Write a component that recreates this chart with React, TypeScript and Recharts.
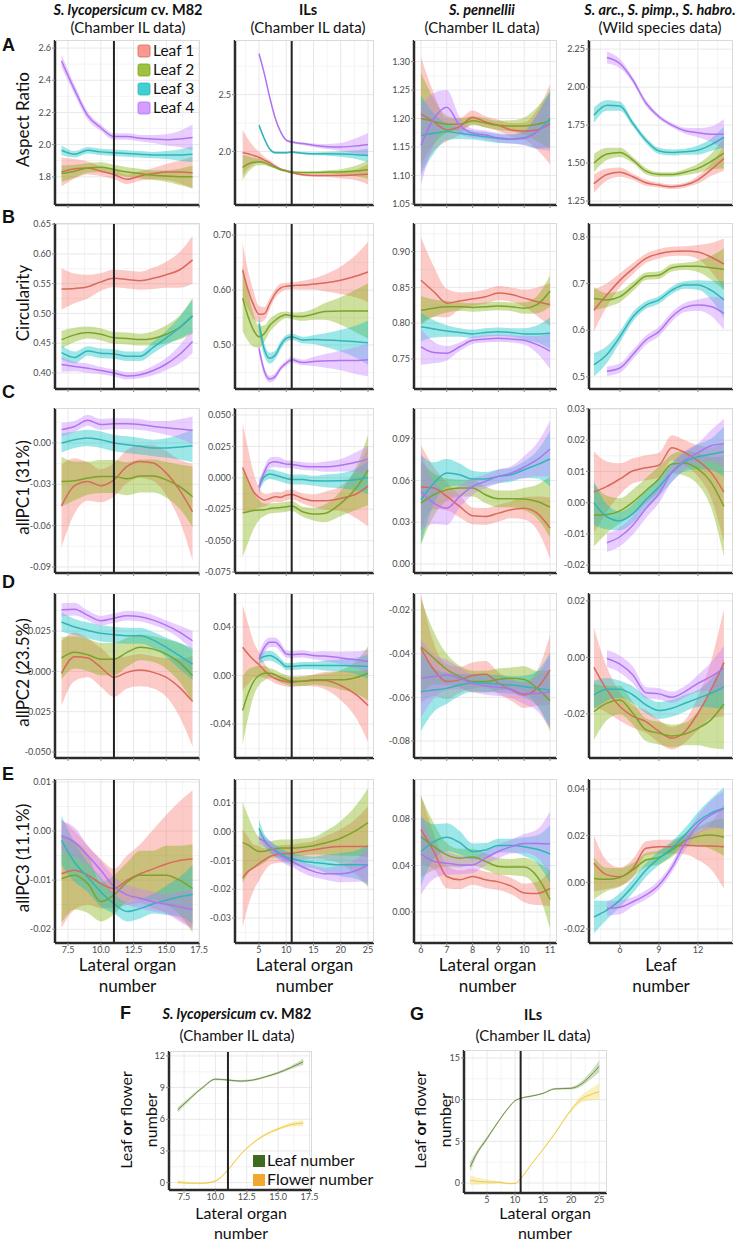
import React from 'react'
import { ComposedChart, Area, Line, XAxis, YAxis, CartesianGrid, ReferenceLine } from 'recharts'

type Pt = [number, number] | null

// x positions (lateral organ / leaf number) per column
const xM82 = [7, 8, 9, 10, 11, 12, 13, 14, 15, 16, 17]
const xIL = [2, 3, 4, 5, 6, 7, 8, 9, 10, 11, 13, 15, 17, 20, 23, 25]
const xPen = [6, 6.5, 7, 7.5, 8, 8.5, 9, 9.5, 10, 10.5, 11]
const xWild = [4, 5, 6, 7, 8, 9, 10, 11, 12, 13, 14]
const xG = [2, 3, 5, 7, 9, 10, 11, 13, 15, 17, 20, 22, 23, 25]

const leafNames = ['Leaf 1', 'Leaf 2', 'Leaf 3', 'Leaf 4']

// each entry: [smoothed mean, half width of the band]
const arM82: Pt[][] = [
  [[1.83, .09], [1.85, .06], [1.855, .04], [1.835, .03], [1.815, .03], [1.785, .03], [1.805, .03], [1.82, .035], [1.83, .05], [1.83, .07], [1.825, .1]],
  [[1.82, .05], [1.835, .04], [1.855, .03], [1.86, .03], [1.845, .03], [1.83, .03], [1.82, .03], [1.81, .03], [1.805, .035], [1.8, .05], [1.8, .07]],
  [[1.965, .03], [1.94, .02], [1.965, .02], [1.955, .02], [1.95, .02], [1.945, .02], [1.94, .02], [1.935, .02], [1.935, .025], [1.935, .035], [1.94, .05]],
  [[2.52, .04], [2.34, .03], [2.18, .025], [2.105, .02], [2.05, .02], [2.05, .02], [2.04, .02], [2.035, .025], [2.03, .035], [2.035, .05], [2.045, .08]],
]
const arIL: Pt[][] = [
  [[1.99, .2], [1.98, .13], [1.965, .08], [1.95, .05], [1.925, .03], [1.9, .02], [1.87, .015], [1.845, .01], [1.83, .01], [1.815, .01], [1.795, .01], [1.79, .012], [1.79, .015], [1.79, .025], [1.795, .05], [1.8, .09]],
  [[1.86, .11], [1.89, .07], [1.905, .04], [1.91, .03], [1.9, .02], [1.88, .015], [1.86, .01], [1.84, .01], [1.83, .01], [1.82, .01], [1.815, .01], [1.815, .012], [1.818, .015], [1.82, .025], [1.83, .05], [1.84, .08]],
  [null, null, null, [2.23, .02], [2.11, .015], [2.02, .012], [1.99, .01], [1.99, .01], [1.99, .01], [1.995, .01], [1.985, .01], [1.98, .012], [1.98, .015], [1.978, .025], [1.972, .04], [1.965, .06]],
  [null, null, null, [2.86, .02], [2.68, .015], [2.47, .012], [2.29, .01], [2.17, .01], [2.1, .01], [2.083, .01], [2.07, .012], [2.055, .015], [2.045, .02], [2.04, .035], [2.05, .07], [2.062, .1]],
]
const arPen: Pt[][] = [
  [[1.208, .1], [1.194, .05], [1.18, .02], [1.186, .015], [1.202, .012], [1.194, .01], [1.188, .01], [1.18, .012], [1.178, .015], [1.18, .035], [1.19, .07]],
  [[1.2, .08], [1.195, .04], [1.19, .015], [1.19, .01], [1.196, .008], [1.192, .008], [1.188, .008], [1.187, .01], [1.187, .015], [1.19, .03], [1.196, .05]],
  [[1.17, .07], [1.174, .035], [1.177, .015], [1.174, .01], [1.171, .008], [1.168, .008], [1.165, .008], [1.164, .008], [1.166, .012], [1.177, .03], [1.2, .05]],
  [[1.153, .07], [1.2, .045], [1.22, .03], [1.188, .015], [1.174, .008], [1.171, .008], [1.166, .008], [1.164, .008], [1.165, .012], [1.177, .03], [1.193, .05]],
]
const arWild: Pt[][] = [
  [[1.364, .06], [1.425, .04], [1.44, .03], [1.41, .02], [1.37, .02], [1.355, .015], [1.344, .015], [1.355, .015], [1.39, .025], [1.455, .04], [1.53, .08]],
  [[1.5, .06], [1.56, .04], [1.57, .03], [1.52, .02], [1.447, .02], [1.425, .015], [1.425, .015], [1.44, .02], [1.465, .03], [1.51, .05], [1.565, .1]],
  [[1.815, .05], [1.88, .035], [1.875, .03], [1.76, .02], [1.65, .02], [1.58, .02], [1.57, .02], [1.575, .02], [1.585, .03], [1.62, .04], [1.67, .07]],
  [null, [2.195, .04], [2.155, .03], [2.045, .02], [1.895, .02], [1.805, .015], [1.75, .015], [1.713, .02], [1.7, .03], [1.69, .05], [1.69, .1]],
]

const circM82: Pt[][] = [
  [[.541, .035], [.542, .025], [.545, .02], [.553, .015], [.559, .015], [.557, .015], [.555, .015], [.559, .018], [.565, .022], [.573, .03], [.59, .04]],
  [[.456, .015], [.464, .012], [.468, .01], [.465, .01], [.459, .01], [.458, .01], [.456, .01], [.458, .012], [.465, .015], [.476, .02], [.496, .03]],
  [[.434, .012], [.426, .01], [.437, .008], [.433, .008], [.432, .008], [.428, .008], [.428, .008], [.443, .01], [.459, .012], [.476, .018], [.496, .028]],
  [[.414, .012], [.411, .008], [.408, .008], [.404, .006], [.4, .006], [.395, .006], [.397, .006], [.404, .008], [.415, .01], [.431, .015], [.453, .02]],
]
const circIL: Pt[][] = [
  [[.636, .05], [.6, .035], [.573, .025], [.556, .015], [.557, .012], [.576, .01], [.594, .008], [.604, .008], [.607, .006], [.608, .006], [.609, .008], [.611, .01], [.613, .015], [.618, .025], [.626, .04], [.633, .055]],
  [[.585, .06], [.552, .045], [.527, .03], [.515, .02], [.521, .015], [.536, .012], [.545, .01], [.552, .008], [.555, .006], [.553, .006], [.552, .008], [.556, .01], [.561, .015], [.562, .025], [.562, .04], [.562, .05]],
  [null, null, null, [.539, .015], [.491, .012], [.476, .01], [.482, .008], [.5, .008], [.512, .006], [.515, .006], [.509, .006], [.51, .008], [.509, .012], [.508, .02], [.506, .03], [.504, .04]],
  [null, null, null, [.494, .01], [.452, .008], [.438, .006], [.443, .006], [.458, .005], [.467, .005], [.473, .005], [.468, .005], [.47, .008], [.471, .012], [.472, .018], [.472, .025], [.473, .03]],
]
const circPen: Pt[][] = [
  [[.86, .06], [.844, .035], [.828, .02], [.831, .012], [.834, .01], [.837, .01], [.842, .01], [.84, .01], [.835, .012], [.83, .02], [.826, .03]],
  [[.818, .02], [.821, .012], [.823, .008], [.823, .006], [.822, .006], [.823, .006], [.824, .006], [.823, .006], [.821, .008], [.826, .012], [.845, .022]],
  [[.795, .02], [.792, .012], [.789, .008], [.787, .006], [.785, .006], [.787, .006], [.788, .006], [.787, .006], [.785, .008], [.785, .012], [.786, .022]],
  [[.767, .025], [.759, .015], [.758, .01], [.767, .006], [.776, .005], [.778, .005], [.779, .005], [.778, .005], [.776, .006], [.77, .012], [.761, .025]],
]
const circWild: Pt[][] = [
  [[.643, .045], [.676, .025], [.707, .015], [.732, .012], [.754, .01], [.764, .01], [.769, .01], [.77, .01], [.768, .015], [.757, .03], [.742, .055]],
  [[.668, .025], [.665, .015], [.672, .012], [.694, .01], [.716, .008], [.718, .008], [.734, .008], [.737, .008], [.737, .012], [.734, .025], [.731, .045]],
  [[.526, .025], [.548, .018], [.586, .012], [.629, .01], [.654, .008], [.665, .008], [.686, .008], [.697, .008], [.697, .01], [.686, .02], [.665, .04]],
  [null, [.512, .01], [.519, .01], [.548, .01], [.579, .01], [.597, .01], [.629, .01], [.649, .01], [.654, .012], [.651, .02], [.636, .035]],
]

const pc1M82: Pt[][] = [
  [[-.0457, .03], [-.031, .02], [-.028, .014], [-.031, .012], [-.0268, .012], [-.017, .012], [-.0134, .012], [-.0146, .013], [-.0219, .016], [-.0341, .022], [-.05, .035]],
  [[-.028, .018], [-.0275, .014], [-.0255, .012], [-.0243, .012], [-.0243, .012], [-.026, .012], [-.024, .012], [-.024, .012], [-.0268, .013], [-.0316, .016], [-.039, .022]],
  [[0, .007], [.0024, .006], [.0036, .006], [.0024, .006], [0, .006], [-.0012, .006], [-.0024, .006], [-.0036, .006], [-.0036, .007], [-.003, .009], [-.002, .012]],
  [[.0097, .005], [.012, .004], [.0165, .004], [.0134, .004], [.0139, .004], [.0139, .004], [.0134, .004], [.012, .004], [.011, .005], [.0102, .007], [.0092, .01]],
]
const pc1IL: Pt[][] = [
  [[.0082, .035], [-.0019, .025], [-.011, .015], [-.0156, .008], [-.0178, .005], [-.0164, .004], [-.0151, .004], [-.0155, .004], [-.0138, .004], [-.0133, .004], [-.0164, .004], [-.0183, .005], [-.0183, .007], [-.0164, .01], [-.0125, .02], [-.0066, .032]],
  [[-.0279, .035], [-.027, .025], [-.026, .015], [-.0257, .008], [-.0255, .005], [-.0244, .004], [-.024, .004], [-.0236, .004], [-.023, .004], [-.0225, .004], [-.027, .004], [-.0289, .005], [-.0284, .007], [-.0204, .01], [-.0072, .018], [.0061, .028]],
  [null, null, null, [-.0066, .005], [.0008, .004], [.003, .004], [.002, .004], [.0008, .004], [-.0005, .004], [-.0013, .004], [-.0013, .004], [-.0024, .004], [-.0025, .005], [-.0024, .006], [-.0013, .009], [.0003, .013]],
  [null, null, null, [-.0077, .004], [.0048, .004], [.0119, .004], [.0127, .004], [.012, .004], [.0109, .003], [.0106, .003], [.0093, .003], [.0088, .003], [.0088, .004], [.01, .005], [.0127, .008], [.0149, .011]],
]
const pc1Pen: Pt[][] = [
  [[.0552, .03], [.0545, .015], [.0485, .01], [.0413, .008], [.0346, .006], [.0341, .006], [.0365, .006], [.0389, .006], [.04, .008], [.0365, .012], [.0257, .022]],
  [[.0437, .03], [.0497, .015], [.0533, .008], [.0545, .006], [.0545, .006], [.0497, .006], [.0468, .006], [.0468, .006], [.0466, .008], [.0449, .012], [.0408, .022]],
  [[.0461, .032], [.058, .015], [.0653, .01], [.0641, .008], [.061, .006], [.061, .005], [.0629, .005], [.0641, .005], [.0677, .006], [.0713, .01], [.0754, .02]],
  [[.0521, .028], [.0437, .015], [.04, .012], [.0485, .008], [.0557, .006], [.0593, .005], [.0629, .005], [.0653, .005], [.0696, .008], [.0749, .012], [.0826, .02]],
]
const pc1Wild: Pt[][] = [
  [[.0034, .013], [.0052, .008], [.0076, .005], [.0102, .004], [.0112, .004], [.012, .004], [.0176, .004], [.016, .004], [.0134, .005], [.0097, .008], [.0034, .016]],
  [[-.004, .01], [-.0038, .006], [-.0026, .004], [.0002, .004], [.0039, .004], [.0076, .004], [.0124, .003], [.0126, .004], [.0108, .005], [.0066, .008], [-.0012, .016]],
  [[-.0001, .007], [-.0045, .004], [-.0058, .003], [-.0035, .003], [.001, .003], [.005, .003], [.0097, .003], [.0131, .003], [.0147, .004], [.0155, .005], [.0163, .008]],
  [null, [-.0128, .003], [-.0109, .003], [-.0072, .003], [-.0019, .003], [.0029, .003], [.0097, .003], [.0136, .003], [.016, .003], [.0182, .005], [.0189, .008]],
]

const pc2M82: Pt[][] = [
  [[-.0012, .02], [.0091, .015], [.0083, .012], [.0025, .012], [-.0037, .012], [-.0006, .01], [.0008, .01], [-.0006, .01], [-.0037, .012], [-.0099, .018], [-.0186, .028]],
  [[.0083, .013], [.0118, .01], [.0103, .01], [.0076, .01], [.0076, .01], [.0118, .009], [.0149, .008], [.0138, .008], [.0107, .009], [.0056, .012], [-.0027, .016]],
  [[.0306, .006], [.0275, .005], [.0254, .005], [.0236, .005], [.0227, .005], [.0221, .005], [.0221, .005], [.0194, .005], [.0149, .006], [.0097, .008], [.0045, .01]],
  [[.0382, .004], [.0386, .004], [.0347, .003], [.0314, .003], [.033, .003], [.0345, .003], [.0339, .003], [.0318, .003], [.0285, .003], [.0244, .004], [.019, .006]],
]
const pc2IL: Pt[][] = [
  [[.0233, .035], [.0178, .025], [.013, .015], [.009, .01], [.004, .006], [0, .004], [-.0025, .004], [-.0041, .004], [-.005, .004], [-.0055, .004], [-.0047, .004], [-.0041, .005], [-.0041, .007], [-.0082, .012], [-.0164, .02], [-.0247, .03]],
  [[-.0288, .028], [-.0151, .02], [-.005, .012], [0, .008], [.0019, .006], [.0019, .004], [.0005, .004], [-.0019, .004], [-.0035, .004], [-.0047, .004], [-.0047, .004], [-.0036, .004], [-.0036, .005], [-.0036, .008], [-.0014, .014], [.0019, .022]],
  [null, null, null, [.0137, .004], [.0156, .004], [.0164, .004], [.0145, .004], [.011, .003], [.0074, .003], [.0074, .003], [.0082, .003], [.0082, .003], [.0082, .004], [.0082, .005], [.0078, .007], [.0074, .01]],
  [null, null, null, [.0137, .005], [.0233, .005], [.0274, .004], [.0274, .004], [.0233, .004], [.0178, .003], [.0173, .003], [.0178, .003], [.0164, .003], [.016, .004], [.0145, .005], [.0129, .007], [.0115, .01]],
]
const pc2Pen: Pt[][] = [
  [[-.0376, .025], [-.0474, .012], [-.0528, .008], [-.052, .006], [-.05, .006], [-.0494, .006], [-.0535, .005], [-.0566, .005], [-.0589, .006], [-.0558, .008], [-.0474, .016]],
  [[-.0368, .022], [-.0421, .012], [-.0472, .007], [-.0505, .005], [-.0528, .005], [-.0528, .005], [-.0518, .005], [-.0513, .005], [-.0518, .006], [-.0559, .008], [-.0615, .014]],
  [[-.0574, .018], [-.0566, .01], [-.0559, .007], [-.0544, .005], [-.0533, .004], [-.0536, .004], [-.0539, .004], [-.0544, .004], [-.0551, .005], [-.0559, .008], [-.0566, .017]],
  [[-.0513, .018], [-.0505, .01], [-.0498, .007], [-.0513, .005], [-.0536, .004], [-.0548, .004], [-.0554, .004], [-.0563, .004], [-.0582, .005], [-.0582, .008], [-.0574, .017]],
]
const pc2Wild: Pt[][] = [
  [[-.0035, .014], [-.0115, .008], [-.0174, .005], [-.0209, .004], [-.0227, .004], [-.0262, .004], [-.0286, .004], [-.0262, .004], [-.0198, .006], [-.0115, .01], [-.0019, .019]],
  [[-.0192, .01], [-.0162, .006], [-.0151, .005], [-.0198, .004], [-.0256, .004], [-.0268, .004], [-.0278, .004], [-.0271, .004], [-.0251, .006], [-.0221, .01], [-.0165, .016]],
  [[-.0133, .005], [-.0113, .004], [-.0113, .003], [-.0133, .003], [-.0168, .003], [-.0188, .003], [-.018, .003], [-.0162, .003], [-.0145, .003], [-.0127, .005], [-.0104, .008]],
  [null, [-.0004, .003], [-.0024, .003], [-.0062, .003], [-.0125, .002], [-.0129, .002], [-.0141, .002], [-.0121, .002], [-.0092, .003], [-.0068, .005], [-.0039, .008]],
]

const pc3M82: Pt[][] = [
  [[-.0087, .011], [-.008, .008], [-.009, .006], [-.0107, .005], [-.0117, .004], [-.01, .005], [-.0087, .006], [-.0077, .008], [-.0067, .01], [-.006, .012], [-.0057, .014]],
  [[-.0097, .009], [-.009, .007], [-.0107, .006], [-.0144, .004], [-.013, .004], [-.0104, .004], [-.009, .005], [-.009, .005], [-.009, .006], [-.01, .007], [-.0117, .009]],
  [[-.0019, .005], [-.0064, .004], [-.0094, .003], [-.0124, .003], [-.0148, .002], [-.0164, .002], [-.0158, .002], [-.0148, .002], [-.0141, .003], [-.0134, .004], [-.0129, .006]],
  [[-.001, .003], [-.0023, .003], [-.005, .002], [-.008, .002], [-.0113, .002], [-.013, .002], [-.0137, .002], [-.0144, .002], [-.0149, .002], [-.0154, .003], [-.016, .004]],
]
const pc3IL: Pt[][] = [
  [[-.0161, .017], [-.0138, .012], [-.0125, .008], [-.0111, .006], [-.0098, .004], [-.0086, .003], [-.008, .003], [-.0077, .003], [-.0076, .003], [-.0075, .003], [-.0069, .003], [-.0063, .003], [-.0057, .004], [-.0052, .006], [-.0052, .01], [-.0052, .014]],
  [[-.0038, .014], [-.0046, .01], [-.006, .007], [-.0069, .005], [-.0068, .004], [-.0063, .003], [-.006, .003], [-.0057, .003], [-.0057, .003], [-.0057, .003], [-.0054, .003], [-.0049, .003], [-.004, .004], [-.0023, .006], [.0006, .009], [.0031, .012]],
  [null, null, null, [.0011, .003], [-.0029, .002], [-.0052, .002], [-.0066, .002], [-.0077, .002], [-.0089, .002], [-.0094, .002], [-.0103, .002], [-.0107, .002], [-.0111, .003], [-.0115, .004], [-.0115, .005], [-.0115, .007]],
  [null, null, null, [-.0023, .002], [-.0034, .002], [-.0052, .002], [-.0069, .002], [-.0084, .002], [-.0095, .002], [-.0103, .002], [-.0123, .002], [-.0138, .002], [-.0146, .002], [-.0146, .003], [-.0134, .004], [-.0115, .006]],
]
const pc3Pen: Pt[][] = [
  [[.0708, .03], [.052, .015], [.0305, .01], [.0277, .008], [.0305, .007], [.0277, .007], [.0259, .007], [.0222, .007], [.0164, .008], [.0159, .01], [.0202, .015]],
  [[.0648, .035], [.0562, .02], [.0491, .01], [.0463, .008], [.0472, .007], [.0435, .007], [.0392, .007], [.0386, .007], [.0386, .008], [.0305, .012], [.0107, .025]],
  [[.052, .03], [.0605, .015], [.0643, .012], [.0597, .01], [.052, .007], [.0533, .006], [.0571, .006], [.0571, .006], [.0562, .008], [.0539, .012], [.0499, .025]],
  [[.0499, .035], [.0435, .015], [.042, .01], [.0405, .008], [.0405, .007], [.0463, .006], [.052, .006], [.0562, .006], [.059, .008], [.059, .012], [.0585, .028]],
]
const pc3Wild: Pt[][] = [
  [[.0082, .012], [.0032, .006], [.0024, .004], [.006, .004], [.0146, .003], [.0153, .003], [.0153, .003], [.016, .004], [.0156, .006], [.0156, .01], [.0153, .018]],
  [[.0017, .009], [.0013, .005], [.0021, .004], [.0053, .003], [.0096, .003], [.0107, .003], [.0139, .003], [.0179, .003], [.0197, .004], [.0203, .006], [.0193, .008]],
  [[-.0148, .007], [-.0119, .004], [-.0076, .003], [-.0016, .003], [.0053, .003], [.0103, .003], [.0146, .003], [.0203, .003], [.0261, .004], [.0297, .006], [.0318, .009]],
  [null, [-.0112, .003], [-.0107, .003], [-.0083, .002], [-.0054, .002], [-.0011, .002], [.0064, .002], [.0168, .003], [.0246, .004], [.0289, .006], [.0314, .008]],
]

// panel F / G: leaf and flower counts
const countM82: Pt[][] = [
  [[6.9, .25], [8.0, .15], [9.03, .12], [9.8, .1], [9.72, .1], [9.62, .1], [9.72, .1], [10.03, .1], [10.4, .12], [10.9, .15], [11.44, .3]],
  [[0.06, .2], [-0.06, .1], [-0.06, .08], [0.16, .08], [1.2, .08], [2.66, .08], [3.76, .1], [4.55, .12], [5.08, .15], [5.49, .2], [5.64, .3]],
]
const countIL: Pt[][] = [
  [[1.93, .6], [3.33, .35], [5.34, .2], [7.35, .12], [9.16, .1], [9.88, .08], [10.16, .08], [10.44, .08], [10.76, .08], [11.29, .1], [11.37, .15], [11.97, .3], [12.57, .4], [13.98, .7]],
  [[0.32, .6], [0.24, .45], [0.12, .3], [0.1, .15], [-0.08, .08], [-0.05, .08], [0.52, .08], [2.33, .08], [4.02, .1], [5.86, .12], [8.76, .2], [10.16, .45], [10.48, .6], [10.96, 1.0]],
]

const leafFill = ['#F8766D', '#7CAE00', '#00BFC4', '#C77CFF']
const leafLine = ['#D9685E', '#7BA32A', '#33B4B7', '#AE74F0']
const countFill = ['#7FA552', '#F5D757']
const countLine = ['#6E8E45', '#EFCB3C']

const FONT = 'Lato, "Open Sans", sans-serif'
const LETTER_FONT = '"Liberation Sans", Arial, sans-serif'

interface ColCfg {
  left: number; w: number; xs: number[]; xDomain: [number, number]; xTicks: number[]; xMinor: number[]; xDec: number; vline: boolean
}
interface RowCfg { top: number; h: number }
interface YCfg { series: Pt[][]; domain: [number, number]; ticks: number[]; dec: number }

const cols: ColCfg[] = [
  { left: 55, w: 145, xs: xM82, xDomain: [6.5, 17.57], xTicks: [7.5, 10, 12.5, 15, 17.5], xMinor: [8.75, 11.25, 13.75, 16.25], xDec: 1, vline: true },
  { left: 235, w: 139, xs: xIL, xDomain: [0.6, 26.1], xTicks: [5, 10, 15, 20, 25], xMinor: [2.5, 7.5, 12.5, 17.5, 22.5], xDec: 0, vline: true },
  { left: 414, w: 143, xs: xPen, xDomain: [5.73, 11.27], xTicks: [6, 7, 8, 9, 10, 11], xMinor: [6.5, 7.5, 8.5, 9.5, 10.5], xDec: 0, vline: false },
  { left: 589, w: 144, xs: xWild, xDomain: [3.62, 14.7], xTicks: [6, 9, 12], xMinor: [4.5, 7.5, 10.5, 13.5], xDec: 0, vline: false },
]
const rows: RowCfg[] = [
  { top: 40, h: 165 }, { top: 223, h: 166 }, { top: 408, h: 165 }, { top: 593, h: 165 }, { top: 779, h: 164 },
]
const grid: YCfg[][] = [
  [
    { series: arM82, domain: [1.625, 2.65], ticks: [1.8, 2.0, 2.2, 2.4, 2.6], dec: 1 },
    { series: arIL, domain: [1.53, 2.98], ticks: [2.0, 2.5], dec: 1 },
    { series: arPen, domain: [1.048, 1.338], ticks: [1.05, 1.1, 1.15, 1.2, 1.25, 1.3], dec: 2 },
    { series: arWild, domain: [1.224, 2.31], ticks: [1.25, 1.5, 1.75, 2.0, 2.25], dec: 2 },
  ],
  [
    { series: circM82, domain: [0.373, 0.652], ticks: [0.4, 0.45, 0.5, 0.55, 0.6, 0.65], dec: 2 },
    { series: circIL, domain: [0.42, 0.722], ticks: [0.5, 0.6, 0.7], dec: 2 },
    { series: circPen, domain: [0.708, 0.94], ticks: [0.75, 0.8, 0.85, 0.9], dec: 2 },
    { series: circWild, domain: [0.474, 0.83], ticks: [0.5, 0.6, 0.7, 0.8], dec: 1 },
  ],
  [
    { series: pc1M82, domain: [-0.0944, 0.0254], ticks: [-0.09, -0.06, -0.03, 0], dec: 2 },
    { series: pc1IL, domain: [-0.0758, 0.0556], ticks: [-0.075, -0.05, -0.025, 0, 0.025, 0.05], dec: 3 },
    { series: pc1Pen, domain: [-0.0065, 0.112], ticks: [0, 0.03, 0.06, 0.09], dec: 2 },
    { series: pc1Wild, domain: [-0.0225, 0.0303], ticks: [-0.02, -0.01, 0, 0.01, 0.02, 0.03], dec: 2 },
  ],
  [
    { series: pc2M82, domain: [-0.0537, 0.0486], ticks: [-0.05, -0.025, 0, 0.025], dec: 3 },
    { series: pc2IL, domain: [-0.068, 0.068], ticks: [-0.04, 0, 0.04], dec: 2 },
    { series: pc2Pen, domain: [-0.0878, -0.0122], ticks: [-0.08, -0.06, -0.04, -0.02], dec: 2 },
    { series: pc2Wild, domain: [-0.0356, 0.0228], ticks: [-0.02, 0, 0.02], dec: 2 },
  ],
  [
    { series: pc3M82, domain: [-0.0228, 0.0106], ticks: [-0.02, -0.01, 0, 0.01], dec: 2 },
    { series: pc3IL, domain: [-0.0387, 0.0183], ticks: [-0.03, -0.02, -0.01, 0, 0.01], dec: 2 },
    { series: pc3Pen, domain: [-0.0267, 0.1144], ticks: [0, 0.04, 0.08], dec: 2 },
    { series: pc3Wild, domain: [-0.026, 0.0443], ticks: [-0.02, 0, 0.02, 0.04], dec: 2 },
  ],
]

function minors(ticks: number[], domain: [number, number]) {
  const step = ticks.length > 1 ? ticks[1] - ticks[0] : 1
  const out = [ticks[0] - step / 2, ...ticks.map((t) => t + step / 2)]
  return out.filter((v) => v > domain[0] && v < domain[1])
}

interface PanelProps {
  left: number; top: number; w: number; h: number
  xs: number[]; series: Pt[][]; fills: string[]; lines: string[]
  xDomain: [number, number]; xTicks: number[]; xMinor: number[]; xDec: number; showX: boolean
  yDomain: [number, number]; yTicks: number[]; yDec: number; vline: boolean; lineW?: number
}

function SmoothPanel(p: PanelProps) {
  const yw = 40
  const mt = 7
  const mr = 12
  const xh = p.showX ? 17 : 5
  const W = yw + p.w + mr
  const H = mt + p.h + xh
  const data = p.xs.map((x, i) => {
    const row: Record<string, unknown> = { x }
    p.series.forEach((s, k) => {
      const v = s[i]
      row['m' + k] = v ? v[0] : null
      row['b' + k] = v ? [v[0] - v[1], v[0] + v[1]] : null
    })
    return row
  })
  const tickStyle = { fontSize: 9, fill: '#4a4a4a', fontFamily: FONT }
  return (
    <div style={{ position: 'absolute', left: p.left - yw, top: p.top - mt, width: W, height: H }}>
      <ComposedChart width={W} height={H} data={data} margin={{ top: mt, right: mr, bottom: 0, left: 0 }}>
        <CartesianGrid stroke="#f4f4f4" horizontalValues={minors(p.yTicks, p.yDomain)} verticalValues={p.xMinor} />
        <CartesianGrid stroke="#e8e8e8" horizontalValues={p.yTicks} verticalValues={p.xTicks} />
        <XAxis
          type="number"
          dataKey="x"
          domain={p.xDomain}
          allowDataOverflow
          ticks={p.xTicks}
          interval={0}
          height={xh}
          tick={tickStyle}
          tickFormatter={(v: number) => (p.showX ? v.toFixed(p.xDec) : '')}
          tickSize={3}
          tickMargin={1}
          tickLine={{ stroke: '#888' }}
          axisLine={{ stroke: '#2a2a2a', strokeWidth: 2.5 }}
        />
        <YAxis
          type="number"
          domain={p.yDomain}
          allowDataOverflow
          ticks={p.yTicks}
          interval={0}
          width={yw}
          tick={tickStyle}
          tickFormatter={(v: number) => v.toFixed(p.yDec)}
          tickSize={3}
          tickMargin={1}
          tickLine={{ stroke: '#888' }}
          axisLine={{ stroke: '#2a2a2a', strokeWidth: 2.5 }}
        />
        {p.series.map((_, k) => (
          <Area
            key={'a' + k}
            type="monotone"
            dataKey={'b' + k}
            stroke="none"
            fill={p.fills[k]}
            fillOpacity={0.38}
            isAnimationActive={false}
          />
        ))}
        {p.series.map((_, k) => (
          <Line
            key={'l' + k}
            type="monotone"
            dataKey={'m' + k}
            stroke={p.lines[k]}
            strokeWidth={p.lineW ?? 1.5}
            dot={false}
            activeDot={false}
            isAnimationActive={false}
          />
        ))}
        {p.vline && <ReferenceLine x={11} stroke="#222" strokeWidth={2} />}
      </ComposedChart>
      <div
        style={{
          position: 'absolute', left: yw, top: mt, width: p.w, height: p.h,
          borderTop: '1px solid #dadada', borderRight: '1px solid #dadada', boxSizing: 'border-box', pointerEvents: 'none',
        }}
      />
    </div>
  )
}

const colTitles = [
  { cx: 128, it: 'S. lycopersicum', rest: ' cv. M82', sub: '(Chamber IL data)' },
  { cx: 308, it: '', rest: 'ILs', sub: '(Chamber IL data)' },
  { cx: 482, it: 'S. pennellii', rest: '', sub: '(Chamber IL data)' },
  { cx: 660, it: 'S. arc., S. pimp., S. habro.', rest: '', sub: '(Wild species data)' },
]
const rowLetters = ['A', 'B', 'C', 'D', 'E']
const letterY = [51, 223, 398, 588, 780]
const rowLabels = ['Aspect Ratio', 'Circularity', 'allPC1 (31%)', 'allPC2 (23.5%)', 'allPC3 (11.1%)']

export default function App() {
  return (
    <div style={{ position: 'absolute', left: 0, top: 0, width: 747, height: 1243, background: '#fff', fontFamily: FONT }}>
      {rows.map((r, ri) =>
        cols.map((c, ci) => {
          const y = grid[ri][ci]
          return (
            <SmoothPanel
              key={ri + '-' + ci}
              left={c.left} top={r.top} w={c.w} h={r.h}
              xs={c.xs} series={y.series} fills={leafFill} lines={leafLine}
              xDomain={c.xDomain} xTicks={c.xTicks} xMinor={c.xMinor} xDec={c.xDec} showX={ri === 4}
              yDomain={y.domain} yTicks={y.ticks} yDec={y.dec} vline={c.vline}
            />
          )
        })
      )}
      <SmoothPanel
        left={169} top={1051} w={143} h={139}
        xs={xM82} series={countM82} fills={countFill} lines={countLine}
        xDomain={[6.3, 17.7]} xTicks={[7.5, 10, 12.5, 15, 17.5]} xMinor={[8.75, 11.25, 13.75, 16.25]} xDec={1} showX
        yDomain={[-0.7, 12.47]} yTicks={[0, 3, 6, 9, 12]} yDec={0} vline lineW={1}
      />
      <SmoothPanel
        left={464} top={1050} w={143} h={143}
        xs={xG} series={countIL} fills={countFill} lines={countLine}
        xDomain={[0.9, 26.4]} xTicks={[5, 10, 15, 20, 25]} xMinor={[2.5, 7.5, 12.5, 17.5, 22.5]} xDec={0} showX
        yDomain={[-1.2, 15.96]} yTicks={[0, 5, 10, 15]} yDec={0} vline lineW={1}
      />
      <svg width={747} height={1243} style={{ position: 'absolute', left: 0, top: 0, pointerEvents: 'none' }} fontFamily={FONT}>
        {colTitles.map((t) => (
          <g key={t.cx}>
            <text x={t.cx} y={15} textAnchor="middle" fontSize={14.5} fontWeight="bold" fill="#111">
              {t.it && <tspan fontStyle="italic">{t.it}</tspan>}
              {t.rest && <tspan>{t.rest}</tspan>}
            </text>
            <text x={t.cx} y={33} textAnchor="middle" fontSize={15} fill="#111">{t.sub}</text>
          </g>
        ))}
        {rows.map((r, i) => (
          <g key={rowLetters[i]}>
            <text x={2} y={letterY[i]} fontSize={18} fontWeight="bold" fontFamily={LETTER_FONT} fill="#111">
              {rowLetters[i]}
            </text>
            <text
              transform={`translate(29, ${r.top + r.h / 2 - 3}) rotate(-90)`}
              textAnchor="middle" fontSize={17} fill="#111"
            >
              {rowLabels[i]}
            </text>
          </g>
        ))}
        {cols.map((c, i) => (
          <g key={'xl' + i}>
            <text x={c.left + c.w / 2 + (i === 2 ? 2 : 0)} y={971} textAnchor="middle" fontSize={17} fill="#111">
              {i === 3 ? 'Leaf' : 'Lateral organ'}
            </text>
            <text x={c.left + c.w / 2 + (i === 2 ? 2 : 0)} y={992} textAnchor="middle" fontSize={17} fill="#111">number</text>
          </g>
        ))}
        {leafNames.map((n, i) => (
          <g key={n}>
            <rect x={138} y={45 + i * 19} width={12} height={12} rx={2} fill={leafFill[i]} fillOpacity={0.75} stroke={leafLine[i]} strokeWidth={0.8} />
            <text x={153} y={56 + i * 19} fontSize={15.5} fill="#111">{n}</text>
          </g>
        ))}
        {/* panel F */}
        <text x={120} y={1019} fontSize={18} fontWeight="bold" fontFamily={LETTER_FONT} fill="#111">F</text>
        <text x={237} y={1019} textAnchor="middle" fontSize={14.5} fontWeight="bold" fill="#111">
          <tspan fontStyle="italic">S. lycopersicum</tspan><tspan> cv. M82</tspan>
        </text>
        <text x={237} y={1041} textAnchor="middle" fontSize={15} fill="#111">(Chamber IL data)</text>
        <text transform="translate(132, 1120) rotate(-90)" textAnchor="middle" fontSize={16} fill="#111">
          <tspan>Leaf </tspan><tspan fontWeight="bold">or</tspan><tspan> flower</tspan>
        </text>
        <text transform="translate(157, 1120) rotate(-90)" textAnchor="middle" fontSize={16} fill="#111">number</text>
        <text x={241} y={1219} textAnchor="middle" fontSize={16} fill="#111">Lateral organ</text>
        <text x={241} y={1239} textAnchor="middle" fontSize={16} fill="#111">number</text>
        <rect x={253} y={1155} width={12} height={12} fill="#3E6B1F" />
        <text x={267} y={1166} fontSize={16} fill="#111">Leaf number</text>
        <rect x={253} y={1174} width={12} height={12} fill="#F0A830" />
        <text x={267} y={1185} fontSize={16} fill="#111">Flower number</text>
        {/* panel G */}
        <text x={410} y={1020} fontSize={18} fontWeight="bold" fontFamily={LETTER_FONT} fill="#111">G</text>
        <text x={533} y={1020} textAnchor="middle" fontSize={14.5} fontWeight="bold" fill="#111">ILs</text>
        <text x={533} y={1041} textAnchor="middle" fontSize={15} fill="#111">(Chamber IL data)</text>
        <text transform="translate(426, 1120) rotate(-90)" textAnchor="middle" fontSize={16} fill="#111">
          <tspan>Leaf </tspan><tspan fontWeight="bold">or</tspan><tspan> flower</tspan>
        </text>
        <text transform="translate(451, 1120) rotate(-90)" textAnchor="middle" fontSize={16} fill="#111">number</text>
        <text x={545} y={1219} textAnchor="middle" fontSize={16} fill="#111">Lateral organ</text>
        <text x={545} y={1239} textAnchor="middle" fontSize={16} fill="#111">number</text>
      </svg>
    </div>
  )
}
